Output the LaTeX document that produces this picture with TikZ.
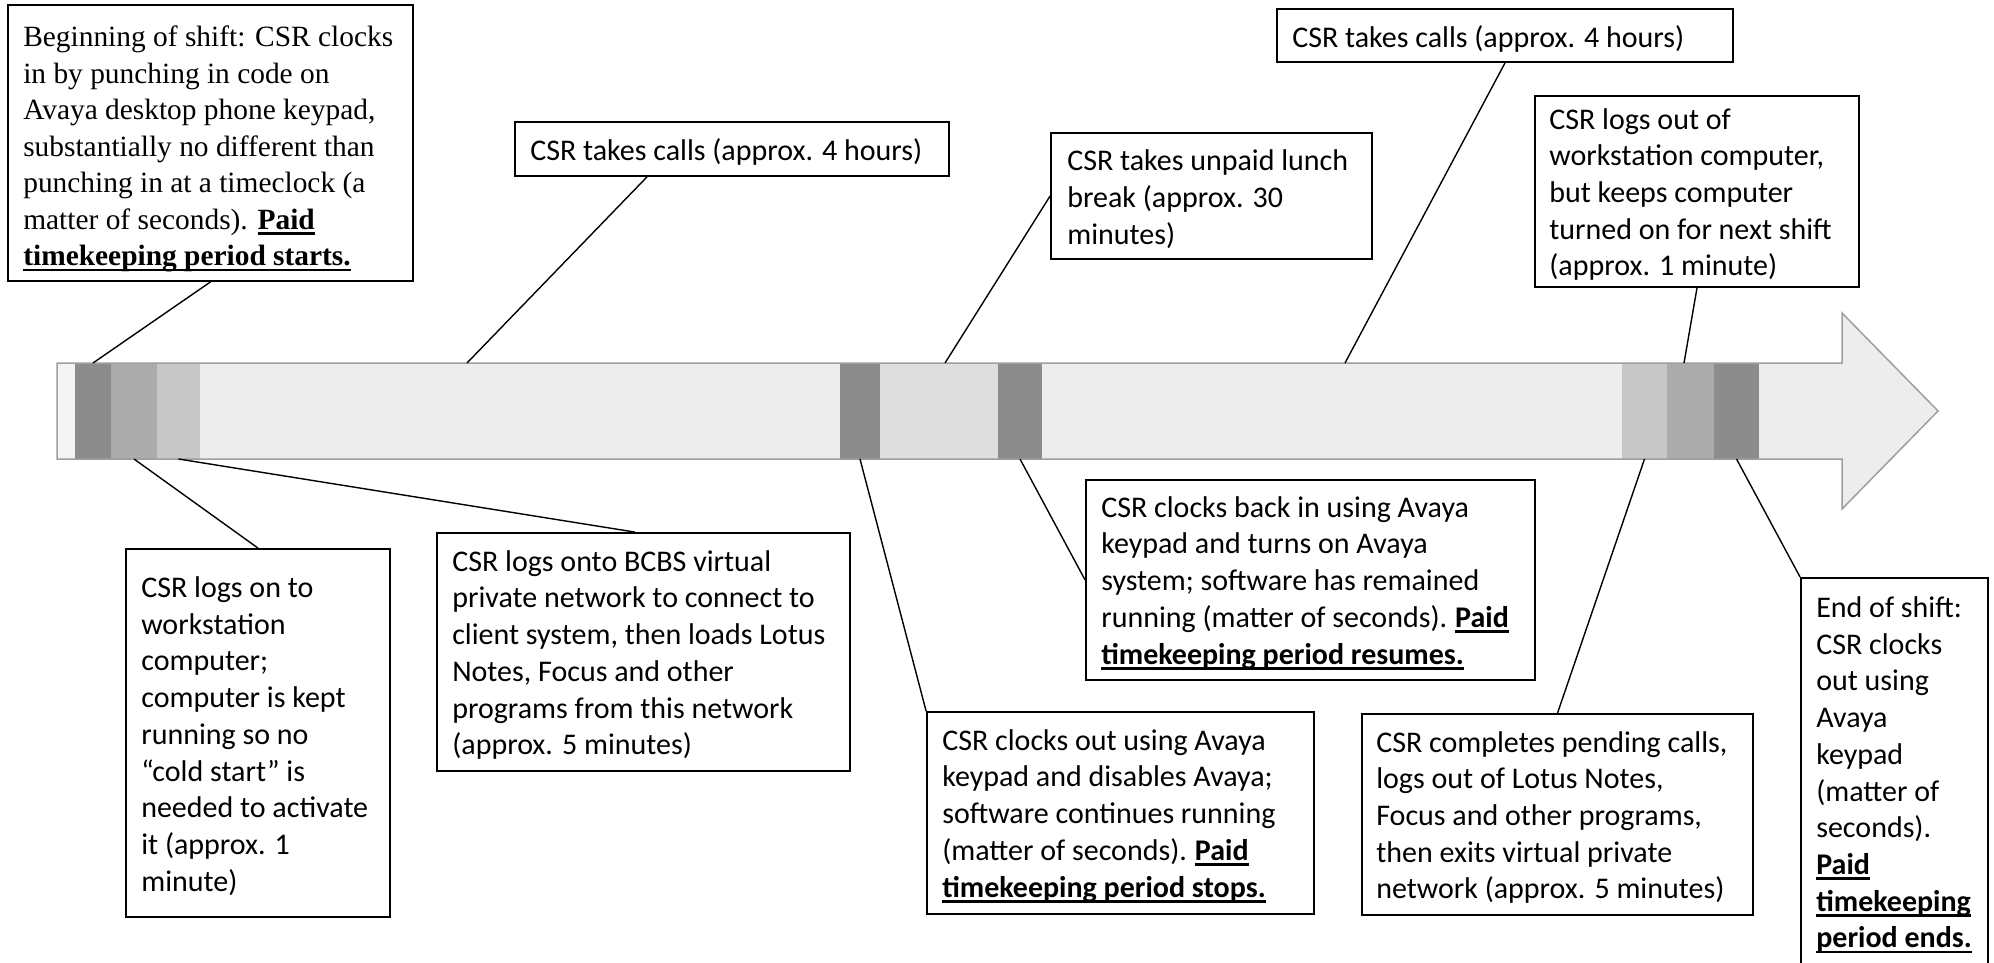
\documentclass[tikz,border=0pt]{standalone}
\usepackage{fontspec}
\setmainfont{Liberation Serif}
\newfontfamily\calib{Carlito}
\usetikzlibrary{calc}
\definecolor{barmain}{gray}{0.93}
\definecolor{barstrip}{gray}{0.955}
\definecolor{bardark}{gray}{0.55}
\definecolor{barmed}{gray}{0.67}
\definecolor{barlight}{gray}{0.78}
\definecolor{barlunch}{gray}{0.87}
\definecolor{barline}{gray}{0.62}
\newcommand\ulx[1]{\setbox0\hbox{#1}\leavevmode\rlap{\raisebox{-5.5pt}{\rule{\wd0}{2.5pt}}}\box0}
\tikzset{
  frame/.style={draw=black, line width=1.8pt, fill=white, inner sep=0pt},
  txt/.style={inner sep=0pt, align=left, anchor=west},
  sanstxt/.style={txt, yshift=-3pt, font=\calib\fontsize{30pt}{36.7pt}\selectfont},
  seriftxt/.style={txt, yshift=-6pt, font=\fontsize{29.4pt}{36.5pt}\selectfont},
  band/.style={inner sep=0pt, minimum height=96pt, draw=none, outer sep=0pt},
  conn/.style={draw=black, line width=1.4pt},
}
\begin{document}
\begin{tikzpicture}[x=1pt,y=-1pt]
\useasboundingbox (0,0) rectangle (1994,963);
\fill[white] (0,0) rectangle (1994,963);
% arrow body
\fill[barmain] (57,363) -- (1842,363) -- (1842,313) -- (1938,411) -- (1842,509) -- (1842,459) -- (57,459) -- cycle;
% bands
\node[band, fill=barstrip, minimum width=18pt] (s0) at (66,411) {};
\node[band, fill=bardark, minimum width=36pt] (d1) at (93,411) {};
\node[band, fill=barmed, minimum width=46pt] (m1) at (134,411) {};
\node[band, fill=barlight, minimum width=43pt] (l1) at (178.5,411) {};
\node[band, fill=barmain, minimum width=640pt] (main1) at (520,411) {};
\node[band, fill=bardark, minimum width=40pt] (d2) at (860,411) {};
\node[band, fill=barlunch, minimum width=118pt] (lb) at (939,411) {};
\node[band, fill=bardark, minimum width=44pt] (d3) at (1020,411) {};
\node[band, fill=barmain, minimum width=580pt] (main2) at (1332,411) {};
\node[band, fill=barlight, minimum width=45pt] (l2) at (1644.5,411) {};
\node[band, fill=barmed, minimum width=47pt] (m2) at (1690.5,411) {};
\node[band, fill=bardark, minimum width=45pt] (d4) at (1736.5,411) {};
\draw[barline, line width=1.5pt] (57,363) -- (1842,363) -- (1842,313) -- (1938,411) -- (1842,509) -- (1842,459) -- (57,459) -- cycle;

% boxes
\node[frame, minimum width=405pt, minimum height=276pt] (b1) at (210.5,143) {};
\node[frame, minimum width=434pt, minimum height=54pt] (calls1) at (732,149) {};
\node[frame, minimum width=321pt, minimum height=126pt] (lunch) at (1211.5,196) {};
\node[frame, minimum width=456pt, minimum height=53pt] (calls2) at (1505,35.5) {};
\node[frame, minimum width=324pt, minimum height=191pt] (logout) at (1697,191.5) {};
\node[frame, minimum width=264pt, minimum height=368pt] (logon) at (258,733) {};
\node[frame, minimum width=413pt, minimum height=238pt] (bcbs) at (643.5,652) {};
\node[frame, minimum width=387pt, minimum height=202pt] (cout) at (1120.5,813) {};
\node[frame, minimum width=449pt, minimum height=200pt] (backin) at (1310.5,580) {};
\node[frame, minimum width=391pt, minimum height=201pt] (complete) at (1557.5,814.5) {};
\node[frame, minimum width=187pt, minimum height=402pt] (endb) at (1894.5,779) {};

% texts
\node[seriftxt] (t1) at ([xshift=16pt]b1.west) {Beginning of shift: CSR clocks\\in by punching in code on\\Avaya desktop phone keypad,\\substantially no different than\\punching in at a timeclock (a\\matter of seconds). \ulx{\textbf{Paid}}\\\ulx{\textbf{timekeeping period starts.}}};
\node[sanstxt] (t2) at ([xshift=16pt]calls1.west) {CSR takes calls (approx. 4 hours)};
\node[sanstxt] (t3) at ([xshift=17pt]lunch.west) {CSR takes unpaid lunch\\break (approx. 30\\minutes)};
\node[sanstxt] (t4) at ([xshift=16pt]calls2.west) {CSR takes calls (approx. 4 hours)};
\node[sanstxt] (t5) at ([xshift=15pt]logout.west) {CSR logs out of\\workstation computer,\\but keeps computer\\turned on for next shift\\(approx. 1 minute)};
\node[sanstxt] (t6) at ([xshift=16pt]logon.west) {CSR logs on to\\workstation\\computer;\\computer is kept\\running so no\\“cold start” is\\needed to activate\\it (approx. 1\\minute)};
\node[sanstxt] (t7) at ([xshift=16pt]bcbs.west) {CSR logs onto BCBS virtual\\private network to connect to\\client system, then loads Lotus\\Notes, Focus and other\\programs from this network\\(approx. 5 minutes)};
\node[sanstxt] (t8) at ([xshift=16pt]cout.west) {CSR clocks out using Avaya\\keypad and disables Avaya;\\software continues running\\(matter of seconds).\hspace{8pt}\ulx{\textbf{Paid}}\\\ulx{\textbf{timekeeping period stops.}}};
\node[sanstxt] (t9) at ([xshift=16pt]backin.west) {CSR clocks back in using Avaya\\keypad and turns on Avaya\\system; software has remained\\running (matter of seconds).\hspace{8pt}\ulx{\textbf{Paid}}\\\ulx{\textbf{timekeeping period resumes.}}};
\node[sanstxt] (t10) at ([xshift=15pt]complete.west) {CSR completes pending calls,\\logs out of Lotus Notes,\\Focus and other programs,\\then exits virtual private\\network (approx. 5 minutes)};
\node[sanstxt] (t11) at ([xshift=16pt,yshift=7pt]endb.west) {End of shift:\\CSR clocks\\out using\\Avaya\\keypad\\(matter of\\seconds).\\\ulx{\textbf{Paid}}\\\ulx{\textbf{timekeeping}}\\\ulx{\textbf{period ends.}}};

% connectors
\draw[conn] (b1.south) -- (d1.north);
\draw[conn] ([xshift=-85pt]calls1.south) -- ([xshift=-53pt]main1.north);
\draw[conn] (lunch.west) -- ([xshift=6pt]lb.north);
\draw[conn] (calls2.south) -- ([xshift=13pt]main2.north);
\draw[conn] (logout.south) -- ([xshift=-6.5pt]m2.north);
\draw[conn] (m1.south) -- (logon.north);
\draw[conn] (l1.south) -- ([xshift=-8.5pt]bcbs.north);
\draw[conn] (d2.south) -- (cout.north west);
\draw[conn] (d3.south) -- (backin.west);
\draw[conn] (l2.south) -- (complete.north);
\draw[conn] (d4.south) -- (endb.north west);
\end{tikzpicture}
\end{document}
